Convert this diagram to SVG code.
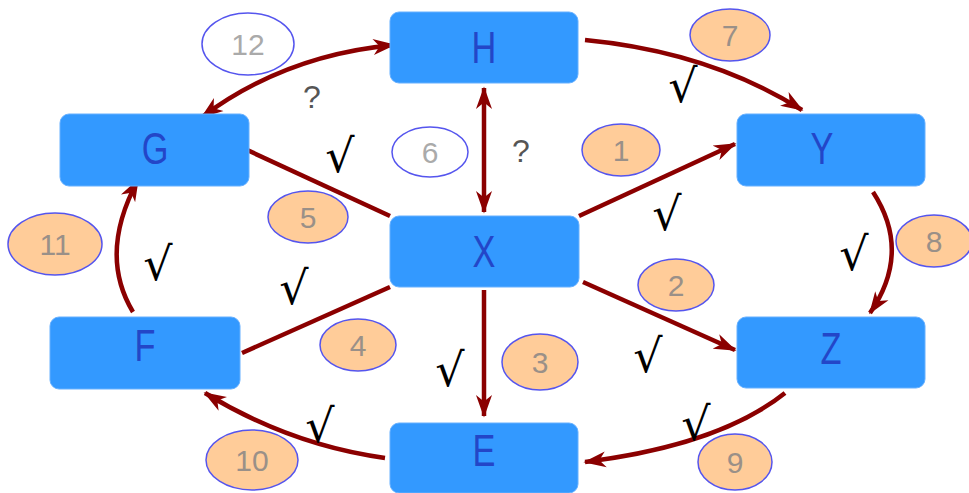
<svg xmlns="http://www.w3.org/2000/svg" width="969" height="493" viewBox="0 0 969 493">
<style>
.box{fill:#3399FF;stroke:#66b0ff;stroke-width:1}
.lt{font-family:"Liberation Sans",Arial,sans-serif;font-size:44px;fill:#2346c8;text-anchor:middle}
.ell{fill:#FFCC99;stroke:#5555ee;stroke-width:1.5}
.ellw{fill:#ffffff;stroke:#5555ee;stroke-width:1.5}
.num{font-family:"Liberation Sans",Arial,sans-serif;font-size:30px;fill:#9a9088;text-anchor:middle}
.numw{font-family:"Liberation Sans",Arial,sans-serif;font-size:30px;fill:#aaaaaa;text-anchor:middle}
.ck{font-family:"DejaVu Sans","Liberation Sans",sans-serif;font-size:46px;fill:#000;text-anchor:middle}
.q{font-family:"Liberation Sans",Arial,sans-serif;font-size:32px;fill:#555;text-anchor:middle}
.ln{fill:none;stroke:#8B0000;stroke-width:4.5}
</style>
<defs>
<marker id="ah" viewBox="0 0 14 10" refX="13" refY="5" markerWidth="5" markerHeight="3.8" orient="auto-start-reverse" markerUnits="strokeWidth">
<path d="M0,0 L14,5 L0,10 L4,5 z" fill="#8B0000"/>
</marker>
</defs>
<g id="connectors">
<path class="ln" d="M394,45 Q285,55 202,117" marker-start="url(#ah)" marker-end="url(#ah)"/>
<path class="ln" d="M585,40 Q710,52 802,110" marker-end="url(#ah)"/>
<path class="ln" d="M484,88 L484,212" marker-start="url(#ah)" marker-end="url(#ah)"/>
<path class="ln" d="M245,149 L390,216"/>
<path class="ln" d="M579,216 L735,144" marker-end="url(#ah)"/>
<path class="ln" d="M583,282 L735,350" marker-end="url(#ah)"/>
<path class="ln" d="M484,290 L484,416" marker-end="url(#ah)"/>
<path class="ln" d="M390,287 L242,353"/>
<path class="ln" d="M873,192 Q912,252 870,313" marker-end="url(#ah)"/>
<path class="ln" d="M785,393 Q720,445 585,462" marker-end="url(#ah)"/>
<path class="ln" d="M385,458 Q290,445 205,393" marker-end="url(#ah)"/>
<path class="ln" d="M133,312 Q98,254 138,180" marker-end="url(#ah)"/>
</g>
<g id="node-H"><rect class="box" x="390" y="12" width="188" height="71" rx="9"/><text class="lt" transform="translate(484,63) scale(0.78,1)">H</text></g>
<g id="node-G"><rect class="box" x="60" y="114" width="189" height="72" rx="9"/><text class="lt" transform="translate(155,164) scale(0.78,1)">G</text></g>
<g id="node-Y"><rect class="box" x="737" y="114" width="188" height="72" rx="9"/><text class="lt" transform="translate(822,164) scale(0.78,1)">Y</text></g>
<g id="node-X"><rect class="box" x="390" y="216" width="189" height="71" rx="9"/><text class="lt" transform="translate(484,267) scale(0.78,1)">X</text></g>
<g id="node-F"><rect class="box" x="50" y="317" width="190" height="72" rx="9"/><text class="lt" transform="translate(145,361) scale(0.78,1)">F</text></g>
<g id="node-Z"><rect class="box" x="737" y="317" width="188" height="71" rx="9"/><text class="lt" transform="translate(831,364) scale(0.78,1)">Z</text></g>
<g id="node-E"><rect class="box" x="390" y="423" width="188" height="70" rx="9"/><text class="lt" transform="translate(484,466) scale(0.78,1)">E</text></g>
<g id="labels">
<ellipse class="ellw" cx="248" cy="44" rx="46" ry="31"/><text class="numw" x="248" y="55">12</text>
<ellipse class="ell" cx="730" cy="35" rx="40" ry="26"/><text class="num" x="730" y="46">7</text>
<ellipse class="ellw" cx="430" cy="152" rx="38" ry="25"/><text class="numw" x="430" y="163">6</text>
<ellipse class="ell" cx="621" cy="150" rx="39" ry="26"/><text class="num" x="621" y="161">1</text>
<ellipse class="ell" cx="308" cy="217" rx="40" ry="26"/><text class="num" x="308" y="228">5</text>
<ellipse class="ell" cx="55" cy="244" rx="47" ry="31"/><text class="num" x="55" y="255">11</text>
<ellipse class="ell" cx="934" cy="241" rx="38" ry="26"/><text class="num" x="934" y="252">8</text>
<ellipse class="ell" cx="676" cy="285" rx="38" ry="26"/><text class="num" x="676" y="296">2</text>
<ellipse class="ell" cx="358" cy="345" rx="38" ry="26"/><text class="num" x="358" y="356">4</text>
<ellipse class="ell" cx="540" cy="362" rx="38" ry="28"/><text class="num" x="540" y="373">3</text>
<ellipse class="ell" cx="252" cy="460" rx="46" ry="30"/><text class="num" x="252" y="471">10</text>
<ellipse class="ell" cx="735" cy="462" rx="37" ry="28"/><text class="num" x="735" y="473">9</text>
<text class="ck" x="683" y="102">√</text>
<text class="ck" x="340" y="172">√</text>
<text class="ck" x="667" y="230">√</text>
<text class="ck" x="854" y="270">√</text>
<text class="ck" x="158" y="280">√</text>
<text class="ck" x="294" y="304">√</text>
<text class="ck" x="450" y="386">√</text>
<text class="ck" x="648" y="372">√</text>
<text class="ck" x="320" y="442">√</text>
<text class="ck" x="696" y="440">√</text>
<text class="q" x="312" y="108">?</text>
<text class="q" x="521" y="162">?</text>
</g>
</svg>
